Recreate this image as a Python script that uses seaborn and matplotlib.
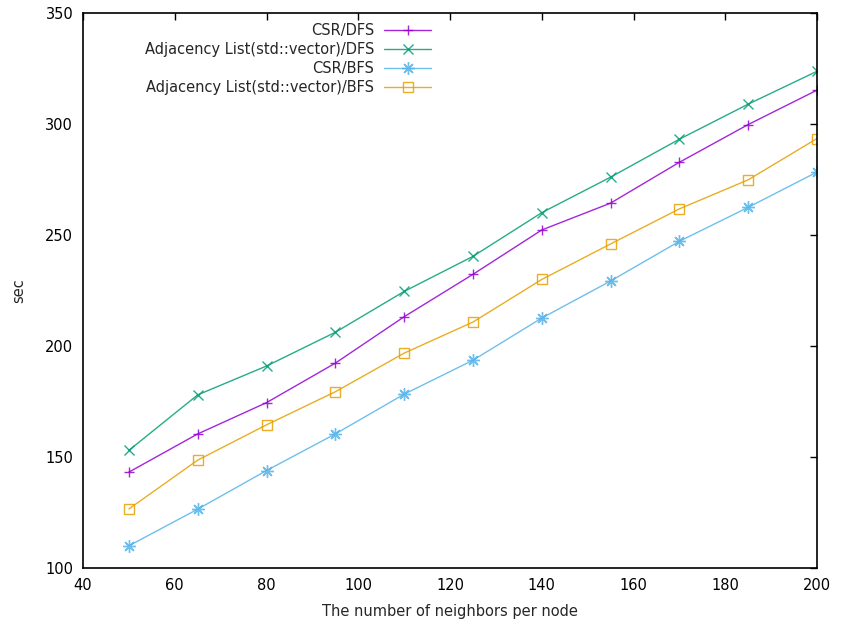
import matplotlib
matplotlib.use("Agg")
import matplotlib.pyplot as plt
import pandas as pd
import seaborn as sns

neighbors = [50, 65, 80, 95, 110, 125, 140, 155, 170, 185, 200]
csr_dfs = [143.2, 160.4, 174.5, 192.3, 213.2, 232.3, 252.3, 264.4, 282.8, 299.8, 315.3]
adj_dfs = [153.0, 178.0, 191.0, 206.2, 224.6, 240.4, 260.1, 276.1, 293.2, 309.0, 323.8]
csr_bfs = [110.0, 126.5, 143.9, 160.4, 178.3, 193.6, 212.6, 229.3, 247.2, 262.5, 278.4]
adj_bfs = [126.6, 148.6, 164.5, 179.4, 196.8, 210.8, 230.0, 246.0, 261.8, 274.9, 293.5]

labels = ["CSR/DFS", "Adjacency List(std::vector)/DFS",
          "CSR/BFS", "Adjacency List(std::vector)/BFS"]

sns.set_theme(style="white")
plt.rcParams["font.family"] = ["DejaVu Sans"]

fig = plt.figure(figsize=(8.49, 6.26), dpi=100)
ax = fig.add_axes([0.0978, 0.0927, 0.8645, 0.8863])

styles = [
    ("#9400d3", "+", 7.5),
    ("#009e73", "x", 7),
    ("#56b4e9", (8, 2, 0), 9),
    ("#e69f00", "s", 7),
]
series = [csr_dfs, adj_dfs, csr_bfs, adj_bfs]

for vals, lab, (col, mk, ms) in zip(series, labels, styles):
    df = pd.DataFrame({"x": neighbors, "y": vals})
    sns.lineplot(data=df, x="x", y="y", ax=ax, color=col, marker=mk,
                 markersize=ms, markerfacecolor="none", markeredgecolor=col,
                 markeredgewidth=1.0, linewidth=1.0, label=lab, alpha=0.85)

ax.set_xlim(40, 200)
ax.set_ylim(100, 350)
ax.set_xticks(range(40, 201, 20))
ax.set_yticks(range(100, 351, 50))
ax.set_xlabel("The number of neighbors per node", fontsize=10.5, labelpad=8)
ax.set_ylabel("sec", fontsize=10.5, labelpad=14)
ax.tick_params(direction="in", length=5, width=1, top=True, right=True,
               labelsize=10.5, pad=7, colors="black")
for s in ax.spines.values():
    s.set_color("black")
    s.set_linewidth(1.2)

ax.legend(loc="upper right", bbox_to_anchor=(0.487, 1.0), frameon=False,
          markerfirst=False, fontsize=10.5, handlelength=3.2,
          labelspacing=0.28, borderaxespad=0.25, handletextpad=0.7)

fig.savefig("out.png", dpi=100)
